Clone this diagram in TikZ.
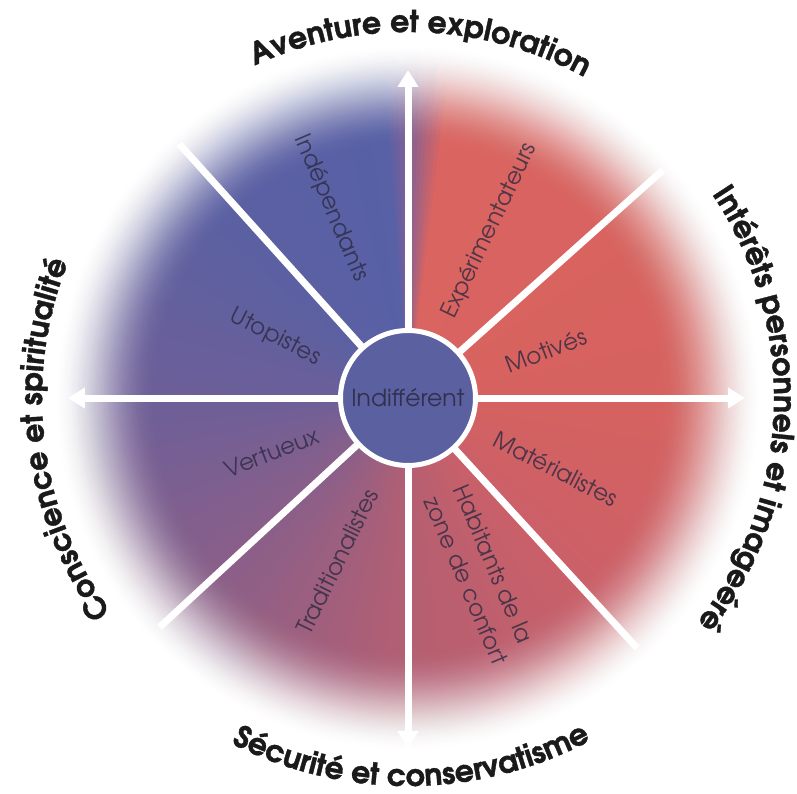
\documentclass[tikz,border=0pt]{standalone}
\usepackage{fontspec}
\setmainfont{TeX Gyre Adventor}
\newfontfamily\titlefont{TeX Gyre Adventor}[BoldFeatures={FakeBold=1.2}]
\usetikzlibrary{arrows.meta,decorations.text}
\definecolor{g0}{HTML}{7C6098}
\definecolor{g1}{HTML}{5860A6}
\definecolor{g2}{HTML}{5B60A2}
\definecolor{g3}{HTML}{6D5F98}
\definecolor{g4}{HTML}{8C5F88}
\definecolor{g5}{HTML}{B45F72}
\definecolor{g6}{HTML}{CC6068}
\definecolor{g7}{HTML}{D6625F}
\definecolor{g8}{HTML}{DA6460}
\definecolor{ctrblue}{HTML}{5A60A0}
\definecolor{labc}{HTML}{2A2840}
\definecolor{titc}{HTML}{1A1A1A}
\newcommand\titlestyle{\titlefont\bfseries\fontsize{30}{34}\selectfont}
\tikzset{
  wline/.style={draw=white, line width=7pt},
  warrow/.style={draw=white, line width=7pt, {Triangle[width=20pt,length=17pt]}-{Triangle[width=20pt,length=17pt]}},
  lab/.style={font=\fontsize{23}{32}\selectfont, text=labc, text opacity=0.78, inner sep=0pt},
  titlepath/.style={decorate, decoration={text along path, text align=center, text color=titc, text={|\titlestyle|#1}}}
}
\begin{document}
\begin{tikzpicture}[x=1pt,y=1pt]
\useasboundingbox (-408,-395) rectangle (389,398);
\fill[white] (-408,-395) rectangle (389,398);
\coordinate (o) at (0,0);
% conic colour field
\foreach \s/\e/\ca/\cb in {0/4/g0/g1, 4/45/g1/g2, 45/90/g2/g3, 90/135/g3/g4, 135/180/g4/g5, 180/225/g5/g6, 225/270/g6/g7, 270/352/g7/g8, 352/360/g8/g0}{
  \pgfmathtruncatemacro\ee{\e-1}
  \foreach \p in {\s,...,\ee}{
    \pgfmathtruncatemacro\q{round(100*(\e-\p)/(\e-\s))}
    \colorlet{wc}{\ca!\q!\cb}
    \pgfmathsetmacro\t{90+\p}
    \fill[wc] (o) -- (\t:355) arc[start angle=\t, end angle=\t+1.4, radius=355] -- cycle;
  }
}
% soft white rim
\foreach \k in {1,...,48}{
  \pgfmathsetmacro\ta{(\k-1)/48}
  \pgfmathsetmacro\tb{\k/48}
  \pgfmathsetmacro\cA{3*\ta*\ta-2*\ta*\ta*\ta}
  \pgfmathsetmacro\cB{3*\tb*\tb-2*\tb*\tb*\tb}
  \pgfmathsetmacro\al{1-(1-\cB)/(1-\cA)}
  \pgfmathsetmacro\r{250+(\k-0.5)*102/48}
  \fill[white, opacity=\al, even odd rule] (o) circle[radius=362] (o) circle[radius=\r];
}
% axes
\coordinate (aT) at (90:328);
\coordinate (aB) at (-90:350);
\coordinate (aL) at (180:340);
\coordinate (aR) at (0:337);
\coordinate (d1) at (132:342);
\coordinate (d2) at (41.8:342);
\coordinate (d3) at (222.7:338);
\coordinate (d4) at (-47.5:339);
\draw[wline] (o) -- (d1);
\draw[wline] (o) -- (d2);
\draw[wline] (o) -- (d3);
\draw[wline] (o) -- (d4);
\draw[warrow] (aB) -- (aT);
\draw[warrow] (aL) -- (aR);
\node[circle, fill=ctrblue, draw=white, line width=5pt, minimum size=135pt, inner sep=0pt,
      font=\fontsize{23.5}{26}\selectfont, text=labc, text opacity=0.85] (ctr) at (o) {Indifférent};
% sector labels
\node[lab, rotate=-67] (l1) at (112:205) {Indépendants};
\node[lab, rotate=64.5] (l2) at (64:186) {Expérimentateurs};
\node[lab, rotate=21] (l3) at (19:146) {Motivés};
\node[lab, rotate=-27] (l4) at (-25.6:164) {Matérialistes};
\node[lab, rotate=-67, align=left] (l5) at (-67.6:191) {Habitants de la\\zone de confort};
\node[lab, rotate=64] (l6) at (-113.4:178) {Traditionalistes};
\node[lab, rotate=21] (l7) at (201.8:147) {Vertueux};
\node[lab, rotate=-27] (l8) at (155.4:146) {Utopistes};
% titles
\path[titlepath={Aventure et exploration}] (128:366) arc[start angle=128, end angle=48, radius=366];
\path[titlepath={Intérêts personnels et imageéré}] (55:366) arc[start angle=55, end angle=-59, radius=366];
\path[titlepath={Conscience et spiritualité}] (238:366) arc[start angle=238, end angle=136, radius=366];
\path[titlepath={Sécurité et conservatisme}] (-138:388) arc[start angle=-138, end angle=-41, radius=388];
\end{tikzpicture}
\end{document}
